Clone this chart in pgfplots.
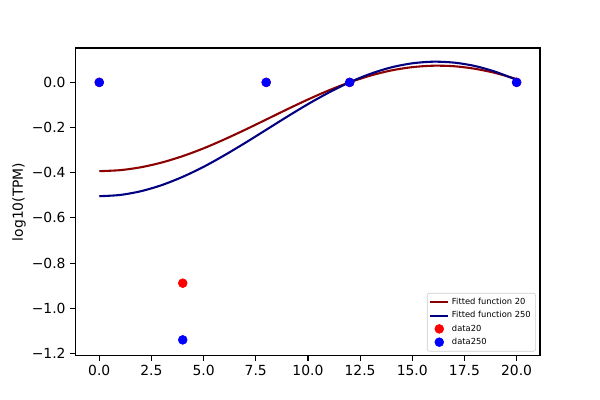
\documentclass[border=0pt]{standalone}
\usepackage{pgfplots}
\pgfplotsset{compat=1.18}
\usepackage{fontspec}
\setmainfont{DejaVu Sans}
\definecolor{mdarkred}{RGB}{139,0,0}
\definecolor{mnavy}{RGB}{0,0,128}
\begin{document}
\begin{tikzpicture}
\begin{axis}[
  scale only axis,
  width=334.6pt, height=221.5pt,
  at={(0,0)}, anchor=south west,
  xmin=-1.15, xmax=21.12,
  ymin=-1.21, ymax=0.152,
  axis line style={line width=0.8pt},
  tick style={line width=0.8pt, black},
  tick align=outside,
  major tick length=3.5pt,
  xtick={0,2.5,5,7.5,10,12.5,15,17.5,20},
  xticklabels={0.0,2.5,5.0,7.5,10.0,12.5,15.0,17.5,20.0},
  ytick={-1.2,-1.0,-0.8,-0.6,-0.4,-0.2,0},
  yticklabels={−1.2,−1.0,−0.8,−0.6,−0.4,−0.2,0.0},
  xtick pos=bottom, ytick pos=left,
  ticklabel style={font=\fontsize{10}{12}\selectfont},
  ylabel={log10(TPM)},
  ylabel style={font=\fontsize{10}{12}\selectfont, yshift=-2.5pt},
  legend cell align=left,
  legend style={at={(1,0)}, anchor=south east, xshift=-3pt, yshift=3pt,
    font=\fontsize{6}{7.5}\selectfont, draw=black!20, rounded corners=1.5pt,
    inner sep=1.5pt, row sep=-0.5pt},
  legend image code/.code={\draw[#1] (0cm,0cm) -- (0.45cm,0cm);},
]
\addplot[mdarkred, line width=1.5pt, smooth, mark=none] coordinates {
(0,-0.393) (1,-0.3886) (2,-0.3757) (3,-0.3547) (4,-0.3264) (5,-0.2920)
(6,-0.2522) (7,-0.2093) (8,-0.1645) (9,-0.1194) (10,-0.0758) (11,-0.0354)
(12,0.0003) (13,0.0302) (14,0.0530) (15,0.0674) (16,0.0738) (17,0.0715)
(18,0.0602) (19,0.0411) (20,0.0144)};
\addlegendentry{Fitted function 20}
\addplot[mnavy, line width=1.5pt, smooth, mark=none] coordinates {
(0,-0.504) (1,-0.4984) (2,-0.4817) (3,-0.4546) (4,-0.4181) (5,-0.3738)
(6,-0.3226) (7,-0.2674) (8,-0.2099) (9,-0.1521) (10,-0.0964) (11,-0.0450)
(12,0.0006) (13,0.0381) (14,0.0666) (15,0.0844) (16,0.0916) (17,0.0875)
(18,0.0725) (19,0.0464) (20,0.0111)};
\addlegendentry{Fitted function 250}
\addplot[only marks, mark=*, mark size=3.2pt, red, mark options={draw=red, fill=red},
  legend image code/.code={\fill[red] (0.225cm,0cm) circle (3.2pt);}] coordinates {
(0,0) (4,-0.889) (8,0) (12,0) (20,0)};
\addlegendentry{data20}
\addplot[only marks, mark=*, mark size=3.2pt, blue, mark options={draw=blue, fill=blue},
  legend image code/.code={\fill[blue] (0.225cm,0cm) circle (3.2pt);}] coordinates {
(0,0) (4,-1.140) (8,0) (12,0) (20,0)};
\addlegendentry{data250}
\end{axis}
\pgfresetboundingbox
\path[use as bounding box] (-54.2pt,-31.9pt) rectangle (377.8pt,256.1pt);
\end{tikzpicture}
\end{document}
